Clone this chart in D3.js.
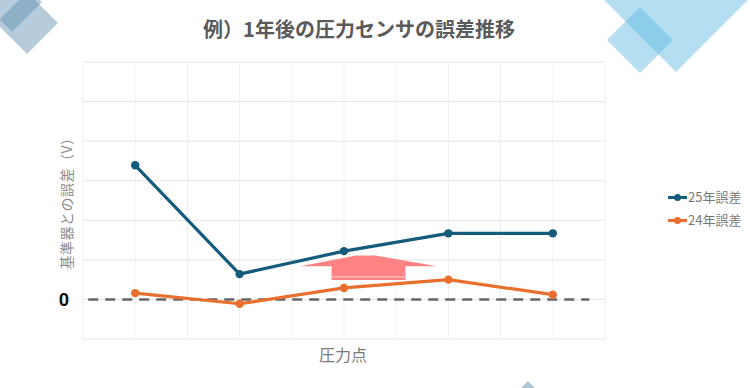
<!DOCTYPE html>
<html>
<head>
<meta charset="utf-8">
<script src="https://d3js.org/d3.v7.min.js"></script>
<style>
  body { margin: 0; overflow: hidden; background: #fff; font-family: "Noto Sans CJK JP", "Noto Sans", sans-serif; }
</style>
</head>
<body>
<script>
// data
var points = ["P1", "P2", "P3", "P4", "P5"];
var err25 = [3.39, 0.64, 1.22, 1.67, 1.67];
var err24 = [0.16, -0.11, 0.29, 0.50, 0.12];
var seriesNames = ["25年誤差", "24年誤差"];
var seriesColors = ["#155b7b", "#e86f2e"];
var yTicks = [0];

var W = 750, H = 388;
var svg = d3.select("body").append("svg").attr("width", W).attr("height", H);

// background decoration (rotated squares)
function diamond(cx, cy, r) {
  return [[cx, cy - r], [cx + r, cy], [cx, cy + r], [cx - r, cy]].join(" ");
}
var deco = svg.append("g");
deco.append("polygon").attr("points", diamond(27, 23, 31)).attr("fill", "#5d8eac").attr("opacity", 0.45);
deco.append("polygon").attr("points", diamond(12, 2, 30)).attr("fill", "#5d8eac").attr("opacity", 0.45);
deco.append("polygon").attr("points", diamond(676, 0, 72)).attr("fill", "#5ab8e0").attr("opacity", 0.45);
deco.append("polygon").attr("points", diamond(640, 40, 33)).attr("fill", "#5ab8e0").attr("opacity", 0.45);
deco.append("polygon").attr("points", diamond(528, 392, 11)).attr("fill", "#8fb0c3").attr("opacity", 0.7);

var pLeft = 83, pRight = 605, pTop = 62, pBottom = 339;

var x = d3.scaleLinear().domain([-0.5, points.length - 0.5]).range([pLeft, pRight]);
var y = d3.scaleLinear().domain([-1, 6]).range([pBottom, pTop]);

// grid
var grid = svg.append("g");
grid.selectAll(".vg")
  .data(d3.range(-0.5, points.length, 0.5))
  .enter().append("line")
  .attr("x1", function(d) { return x(d); }).attr("x2", function(d) { return x(d); })
  .attr("y1", pTop).attr("y2", pBottom)
  .attr("stroke", "#f0f0f0").attr("stroke-width", 1);
grid.selectAll(".hg")
  .data(d3.range(-1, 7, 1))
  .enter().append("line")
  .attr("x1", pLeft).attr("x2", pRight)
  .attr("y1", function(d) { return y(d); }).attr("y2", function(d) { return y(d); })
  .attr("stroke", "#e6e6e6").attr("stroke-width", 1);

// zero dashed line
svg.append("line")
  .attr("x1", x(-0.45)).attr("x2", x(4.35))
  .attr("y1", y(0)).attr("y2", y(0))
  .attr("stroke", "#666").attr("stroke-width", 2.5)
  .attr("stroke-dasharray", "10,7");

// pink up arrow between the series
var ax = d3.scaleLinear().domain([0, 1]).range([x(1.58), x(2.89)]);
var arrowPts = [
  [0, y(0.84)], [0.41, y(1.11)], [0.55, y(1.11)], [1, y(0.84)],
  [0.77, y(0.84)], [0.77, y(0.49)], [0.23, y(0.49)], [0.23, y(0.84)]
];
svg.append("polygon")
  .attr("points", arrowPts.map(function(p) { return [ax(p[0]), p[1]].join(","); }).join(" "))
  .attr("fill", "#ff7c7c").attr("opacity", 0.95);
svg.append("line")
  .attr("x1", ax(0.23)).attr("x2", ax(0.77))
  .attr("y1", y(0.57)).attr("y2", y(0.57))
  .attr("stroke", "#ffd6d6").attr("stroke-width", 1);

// series
var line = d3.line()
  .x(function(d, i) { return x(i); })
  .y(function(d) { return y(d); });

[err25, err24].forEach(function(vals, k) {
  var g = svg.append("g");
  g.append("path").datum(vals)
    .attr("d", line)
    .attr("fill", "none")
    .attr("stroke", seriesColors[k])
    .attr("stroke-width", 3.2)
    .attr("stroke-linejoin", "round");
  g.selectAll("circle").data(vals).enter().append("circle")
    .attr("cx", function(d, i) { return x(i); })
    .attr("cy", function(d) { return y(d); })
    .attr("r", 4.2)
    .attr("fill", seriesColors[k]);
});

// y tick label
svg.selectAll(".ytick").data(yTicks).enter().append("text")
  .attr("x", 64).attr("y", function(d) { return y(d); })
  .attr("dy", "0.36em")
  .attr("text-anchor", "middle")
  .style("font-size", "18px").style("font-weight", "bold")
  .style("font-family", "Roboto, 'Noto Sans', sans-serif")
  .attr("fill", "#111")
  .text(function(d) { return d; });

// axis titles
svg.append("text")
  .attr("transform", "translate(67," + 200 + ") rotate(-90)")
  .attr("text-anchor", "middle").attr("dy", "0.36em")
  .style("font-size", "14px").style("letter-spacing", "0.5px")
  .attr("fill", "#8c8c8c")
  .text("基準器との誤差（V）");

svg.append("text")
  .attr("x", 343).attr("y", 355).attr("dy", "0.36em")
  .attr("text-anchor", "middle")
  .style("font-size", "16px").attr("fill", "#7a7a7a")
  .text("圧力点");

// title
svg.append("text")
  .attr("x", 359).attr("y", 30).attr("dy", "0.36em")
  .attr("text-anchor", "middle")
  .style("font-size", "20px").style("font-weight", "bold")
  .attr("fill", "#5a5a5a")
  .text("例）1年後の圧力センサの誤差推移");

// legend
var legend = svg.selectAll(".leg").data(seriesNames).enter().append("g")
  .attr("transform", function(d, i) { return "translate(668," + (197.5 + i * 23) + ")"; });
legend.append("line")
  .attr("x1", 0).attr("x2", 19).attr("y1", 0).attr("y2", 0)
  .attr("stroke", function(d, i) { return seriesColors[i]; })
  .attr("stroke-width", 3);
legend.append("circle")
  .attr("cx", 9.5).attr("cy", 0).attr("r", 3.5)
  .attr("fill", function(d, i) { return seriesColors[i]; });
legend.append("text")
  .attr("x", 20).attr("dy", "0.36em")
  .style("font-size", "13px").attr("fill", "#777")
  .text(function(d) { return d; });
</script>
</body>
</html>
